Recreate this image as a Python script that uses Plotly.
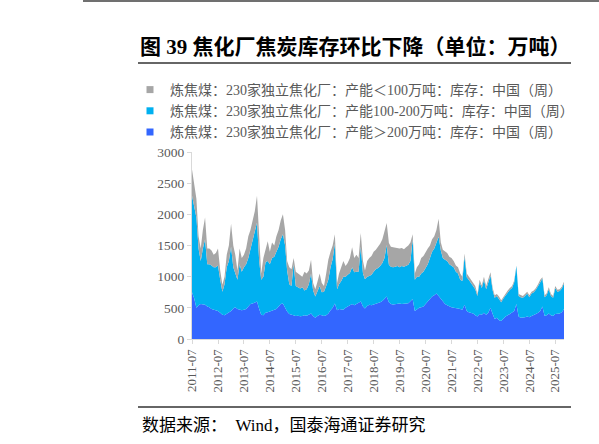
import plotly.graph_objects as go
import pandas as pd

# 炼焦煤：230家独立焦化厂：库存（万吨），按月读数，2011-07 起
blue_gt200 = [
    750, 650, 500, 540, 560, 560,
    550, 520, 510, 480, 470, 460, 450, 420, 390, 380, 400, 420,
    450, 490, 510, 480, 470, 460, 470, 480, 520, 560, 570, 590,
    600, 480, 390, 380, 420, 430, 440, 460, 470, 480, 520, 560,
    570, 500, 440, 400, 390, 370, 370, 375, 365, 370, 380, 375,
    390, 410, 370, 340, 370, 390, 380, 370, 380, 410, 460, 500,
    570, 460, 480, 470, 470, 500, 520, 550, 560, 540, 560, 580,
    600, 520, 490, 530, 550, 540, 550, 560, 570, 590, 610, 650,
    680, 590, 560, 555, 560, 560, 570, 560, 560, 570, 575, 600,
    640, 450, 480, 500, 510, 520, 560, 600, 650, 680, 700, 730,
    690, 640, 600, 560, 540, 520, 510, 500, 500, 490, 480, 470,
    550, 450, 430, 420, 410, 380, 360, 400, 390, 420, 390, 420,
    500, 400, 320, 340, 300, 290, 330, 360, 380, 400, 420, 450,
    560, 360, 340, 340, 350, 360, 350, 370, 380, 400, 420, 450,
    520, 370, 380, 410, 380, 370, 400, 400, 410, 430, 480,
]
cyan_100_200 = [
    1550, 1500, 1450, 910, 690, 890,
    1050, 680, 690, 700, 680, 690, 730, 530, 370, 500, 750, 830,
    1030, 660, 540, 470, 730, 620, 680, 720, 780, 870, 1030, 1130,
    1270, 770, 560, 620, 810, 820, 760, 840, 850, 920, 960, 1040,
    1110, 1000, 660, 480, 460, 830, 480, 455, 445, 460, 400, 425,
    490, 640, 410, 340, 410, 460, 370, 390, 470, 540, 690, 780,
    960, 340, 400, 460, 530, 500, 510, 510, 590, 530, 520, 500,
    880, 530, 470, 470, 460, 490, 530, 560, 570, 580, 610, 650,
    830, 600, 600, 595, 600, 610, 580, 610, 600, 610, 615, 650,
    960, 500, 520, 500, 540, 560, 590, 600, 650, 720, 750, 800,
    950, 780, 700, 710, 710, 680, 670, 650, 580, 560, 470, 460,
    770, 540, 520, 480, 440, 420, 330, 510, 430, 530, 410, 480,
    520, 380, 340, 350, 340, 300, 320, 340, 370, 390, 400, 460,
    610, 330, 330, 320, 340, 370, 320, 360, 370, 390, 430, 470,
    450, 300, 320, 390, 310, 290, 420, 360, 360, 380, 410,
]
gray_lt100 = [
    420, 300, 300, 200, 200, 300,
    350, 250, 250, 240, 200, 230, 270, 150, 110, 120, 200, 250,
    370, 350, 300, 150, 250, 220, 200, 250, 350, 320, 300, 330,
    430, 300, 100, 300, 220, 320, 200, 250, 180, 250, 270, 300,
    320, 250, 150, 270, 270, 100, 230, 220, 210, 170, 300, 250,
    220, 220, 120, 120, 140, 200, 150, 90, 200, 320, 250, 220,
    150, 100, 170, 220, 250, 170, 190, 240, 320, 230, 270, 220,
    220, 200, 140, 250, 290, 300, 320, 310, 340, 360, 380, 420,
    350, 350, 320, 320, 300, 280, 300, 290, 280, 290, 310, 300,
    80, 100, 150, 200, 250, 250, 250, 250, 200, 200, 200, 220,
    290, 130, 130, 130, 130, 120, 120, 100, 100, 100, 100, 70,
    50, 60, 50, 60, 50, 50, 30, 40, 40, 50, 50, 50,
    50, 40, 40, 30, 40, 30, 30, 30, 30, 30, 30, 30,
    10, 30, 30, 30, 30, 30, 30, 30, 30, 30, 30, 30,
    20, 30, 30, 30, 30, 30, 30, 30, 30, 30, 30,
]
dates = pd.date_range("2011-07-01", periods=len(blue_gt200), freq="MS")

name_gray = "炼焦煤：230家独立焦化厂：产能＜100万吨：库存：中国（周）"
name_cyan = "炼焦煤：230家独立焦化厂：产能100-200万吨：库存：中国（周）"
name_blue = "炼焦煤：230家独立焦化厂：产能＞200万吨：库存：中国（周）"

C_GRAY = "#A6A6A6"
C_CYAN = "#00B0F0"
C_BLUE = "#3366FF"
SERIF = "Liberation Serif, Noto Sans CJK SC, serif"
TXT = "#595959"
AX = "#D9D9D9"

fig = go.Figure()
for vals, name, color in [(blue_gt200, name_blue, C_BLUE),
                          (cyan_100_200, name_cyan, C_CYAN),
                          (gray_lt100, name_gray, C_GRAY)]:
    fig.add_trace(go.Scatter(x=dates, y=vals, stackgroup="one", mode="lines",
                             line=dict(width=0, color=color), fillcolor=color,
                             name=name, showlegend=False, hoverinfo="skip"))
for name, color in [(name_gray, C_GRAY), (name_cyan, C_CYAN), (name_blue, C_BLUE)]:
    fig.add_trace(go.Scatter(x=[None], y=[None], mode="markers", name=name,
                             marker=dict(symbol="square", size=7, color=color)))

L, R, T, B = 192, 35, 152, 105
W, H = 599, 444
pw, ph = W - L - R, H - T - B
def px(x):
    return (x - L) / pw
def py(y):
    return (H - B - y) / ph

fig.update_layout(
    width=W, height=H,
    margin=dict(l=L, r=R, t=T, b=B),
    paper_bgcolor="white", plot_bgcolor="white",
    font=dict(family=SERIF, color=TXT),
    title=dict(text="图 39 焦化厂焦炭库存环比下降（单位：万吨）",
               x=140 / W, xanchor="left", xref="container",
               y=1 - 47 / H, yanchor="middle",
               font=dict(family=SERIF, size=21, color="#000000", weight="bold")),
    legend=dict(x=px(130), y=py(74), xanchor="left", yanchor="top",
                font=dict(family=SERIF, size=14, color=TXT),
                bgcolor="rgba(0,0,0,0)", traceorder="normal"),
    showlegend=True,
    xaxis=dict(type="date", range=[dates[0], dates[-1]],
               tick0="2011-07-01", dtick="M12", tickformat="%Y-%m",
               tickangle=-90, ticks="outside", ticklen=4, tickcolor=AX,
               showline=True, linecolor=AX, linewidth=1, showgrid=False,
               zeroline=False, tickfont=dict(family=SERIF, size=13, color=TXT)),
    yaxis=dict(range=[0, 3000], dtick=500, ticks="outside", ticklen=4,
               tickcolor=AX, showline=True, linecolor=AX, linewidth=1,
               showgrid=False, zeroline=False,
               tickfont=dict(family=SERIF, size=13.5, color=TXT)),
    shapes=[
        dict(type="line", xref="paper", yref="paper", x0=px(83), x1=px(599),
             y0=py(1), y1=py(1), line=dict(color="#404040", width=1.5)),
        dict(type="line", xref="paper", yref="paper", x0=px(138), x1=px(571),
             y0=py(63), y1=py(63), line=dict(color="#333333", width=1.5)),
        dict(type="line", xref="paper", yref="paper", x0=px(138), x1=px(571),
             y0=py(407), y1=py(407), line=dict(color="#333333", width=1.5)),
    ],
    annotations=[
        dict(text="数据来源：  Wind，国泰海通证券研究", xref="paper", yref="paper",
             x=px(140), y=py(425), xanchor="left", yanchor="middle",
             showarrow=False, font=dict(family=SERIF, size=17, color="#000000")),
    ],
)

fig.write_html("out.html", config={"displayModeBar": False},
               post_script="document.body.style.margin='0';document.body.style.overflow='hidden';")
